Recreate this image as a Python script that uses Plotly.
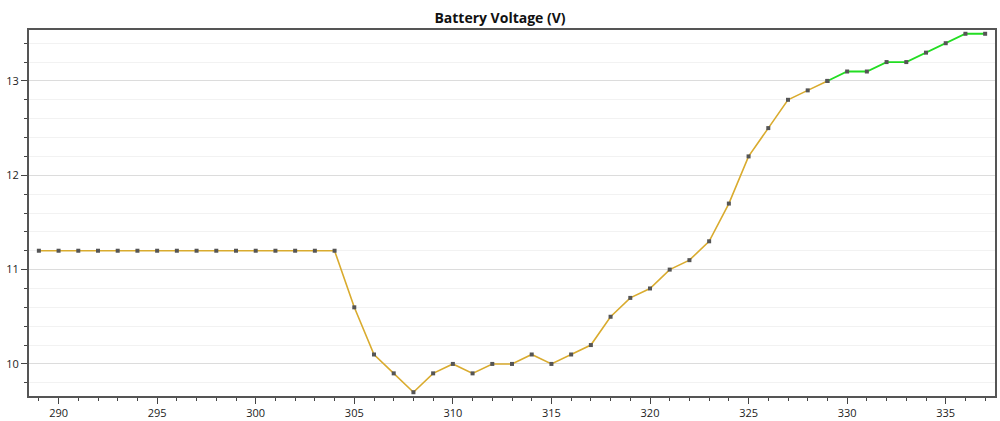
import plotly.graph_objects as go

# readings (sample index, volts)
samples = list(range(289, 338))
voltage = [11.2, 11.2, 11.2, 11.2, 11.2, 11.2, 11.2, 11.2, 11.2, 11.2, 11.2, 11.2, 11.2, 11.2, 11.2, 11.2,
           10.6, 10.1, 9.9, 9.7, 9.9, 10.0, 9.9, 10.0, 10.0, 10.1, 10.0, 10.1, 10.2, 10.5, 10.7, 10.8,
           11.0, 11.1, 11.3, 11.7, 12.2, 12.5, 12.8, 12.9, 13.0, 13.1, 13.1, 13.2, 13.2, 13.3, 13.4,
           13.5, 13.5]
full_charge = 13.0

split = next(i for i, v in enumerate(voltage) if v >= full_charge)

fig = go.Figure()
fig.add_trace(go.Scatter(x=samples[:split + 1], y=voltage[:split + 1], mode="lines+markers",
                         line=dict(color="#d9ab2e", width=1.6),
                         marker=dict(symbol="square", size=4, color="#555555")))
fig.add_trace(go.Scatter(x=samples[split:], y=voltage[split:], mode="lines+markers",
                         line=dict(color="#22dd22", width=1.8),
                         marker=dict(symbol="square", size=4, color="#555555")))

fig.update_layout(
    width=1000, height=421,
    margin=dict(l=29, r=5, t=30, b=25),
    paper_bgcolor="white", plot_bgcolor="white",
    showlegend=False,
    font=dict(family="Open Sans", size=11, color="#222222"),
    title=dict(text="<b>Battery Voltage (V)</b>", x=0.5, xanchor="center", y=0.957, yanchor="middle",
               font=dict(size=14, color="#111111")),
)
fig.update_xaxes(range=[288.5, 337.5], dtick=5, tick0=290, ticks="outside", ticklen=6,
                 tickcolor="#444444", showgrid=False, zeroline=False, automargin=False,
                 showline=True, linecolor="#555555", linewidth=2, mirror=True,
                 minor=dict(dtick=1, ticks="outside", ticklen=3, tickcolor="#444444", showgrid=False))
fig.update_yaxes(range=[9.66, 13.54], dtick=1, ticks="outside", ticklen=6,
                 tickcolor="#444444", showgrid=True, gridcolor="#dcdcdc", gridwidth=1, zeroline=False,
                 automargin=False,
                 showline=True, linecolor="#555555", linewidth=2, mirror=True,
                 minor=dict(dtick=0.2, ticks="outside", ticklen=3, tickcolor="#444444",
                            showgrid=True, gridcolor="#f2f2f2"))

# drop the default body margin so the figure fills the window
fig.write_html("out.html", config={"displayModeBar": False},
               post_script="document.body.style.margin='0';")
